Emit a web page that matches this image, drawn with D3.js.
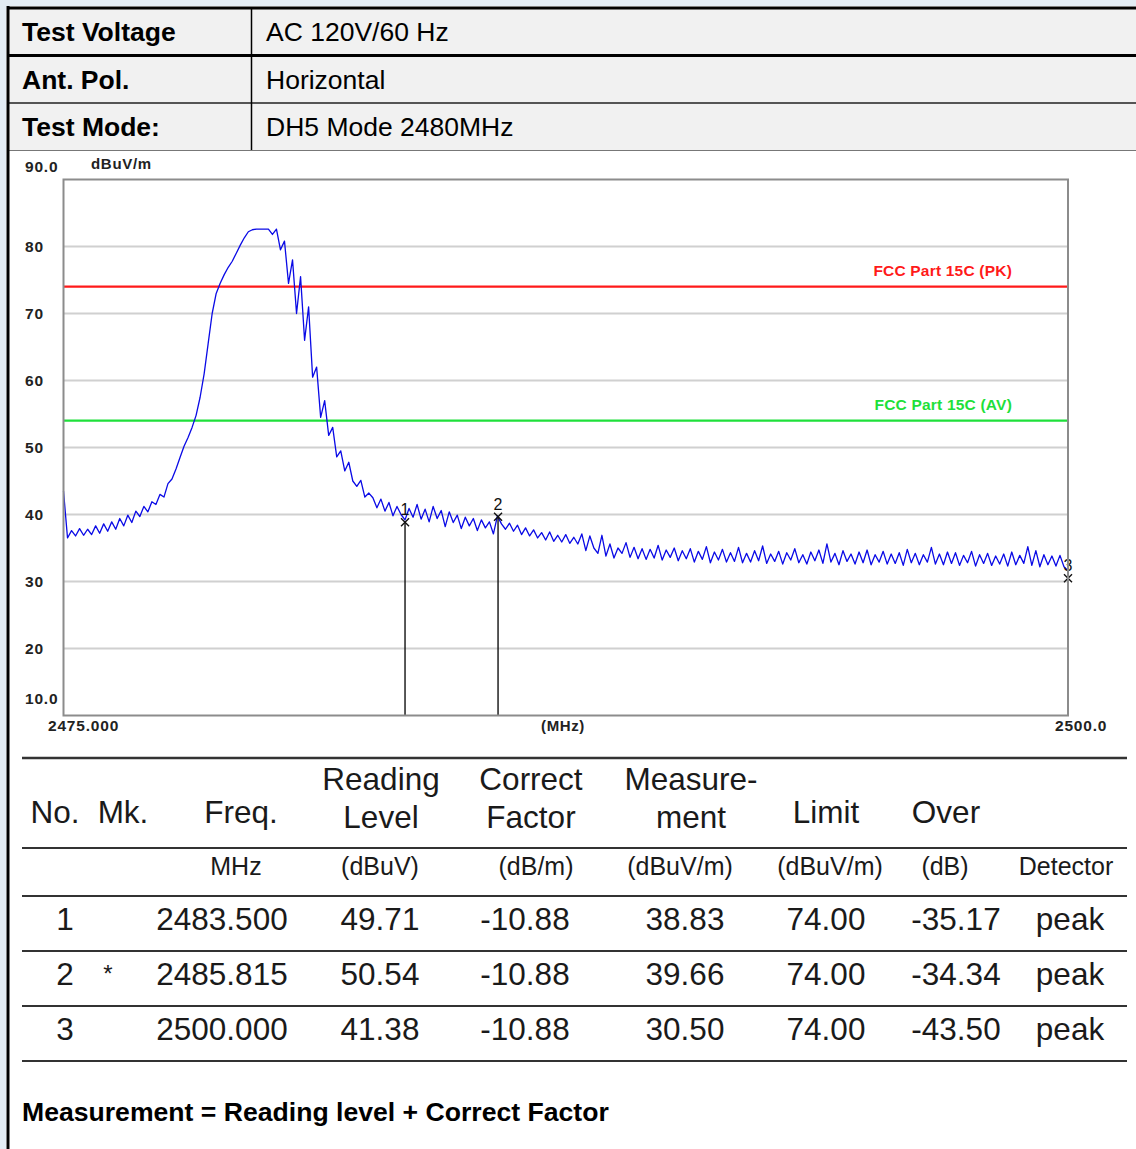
<!DOCTYPE html>
<html>
<head>
<meta charset="utf-8">
<script src="https://cdn.jsdelivr.net/npm/d3@7"></script>
<style>
  body { margin: 0; background: #e3ecf4; }
  svg { display: block; }
</style>
</head>
<body>
<script>
// info table on top
var infoLabels = ["Test Voltage", "Ant. Pol.", "Test Mode:"];
var infoValues = ["AC 120V/60 Hz", "Horizontal", "DH5 Mode 2480MHz"];

// sweep 2475.0 - 2500.0 MHz, 0.1 MHz per point (dBuV/m)
var sweepStart = 2475.0, sweepStop = 2500.0;
var levels = [
  43.5, 36.5, 37.6, 36.8, 37.9, 36.9, 37.8, 37.0, 38.3, 37.2,
  38.6, 37.5, 38.9, 37.8, 39.4, 38.3, 39.9, 38.8, 40.5, 39.7,
  41.2, 40.4, 41.9, 41.5, 43.0, 42.6, 44.6, 45.3, 46.8, 48.5,
  50.2, 51.5, 53.0, 54.8, 57.5, 61.0, 65.5, 70.0, 73.0, 74.5,
  75.8, 76.9, 77.8, 79.0, 80.2, 81.3, 82.2, 82.5, 82.6, 82.6,
  82.6, 82.6, 81.8, 82.6, 79.5, 80.8, 74.5, 78.0, 70.0, 75.5,
  66.0, 71.0, 60.5, 62.0, 54.5, 57.0, 51.8, 53.0, 48.6, 49.5,
  46.5, 47.8, 45.0, 44.2, 45.1, 42.6, 43.2, 42.5, 41.0, 42.3,
  40.5, 41.8, 39.8, 41.2, 40.0, 39.2, 40.9, 39.6, 41.5, 39.3,
  40.8, 38.9, 41.2, 39.4, 40.6, 38.2, 40.4, 38.8, 39.9, 37.9,
  39.6, 38.3, 39.4, 37.6, 39.2, 38.0, 38.9, 37.1, 39.8, 38.6,
  37.8, 38.7, 37.5, 38.4, 37.0, 38.0, 36.8, 37.7, 36.5, 37.3,
  36.2, 37.4, 36.0, 36.9, 35.9, 37.0, 35.7, 36.6, 35.6, 37.1,
  34.6, 36.8, 35.0, 34.2, 36.9, 33.8, 35.6, 33.5, 35.0, 34.2,
  35.8, 33.6, 35.1, 33.4, 34.9, 33.3, 34.8, 33.5, 35.4, 33.2,
  34.7, 33.6, 35.0, 33.1, 34.6, 33.4, 34.9, 32.9, 34.5, 33.3,
  35.2, 32.8, 34.4, 33.2, 34.8, 32.9, 34.3, 33.0, 35.1, 32.8,
  34.2, 32.9, 34.6, 33.1, 35.3, 32.7, 34.1, 33.0, 34.5, 32.6,
  34.3, 33.2, 34.9, 32.8, 34.0, 32.6, 34.4, 33.1, 34.7, 32.7,
  35.6, 32.9, 34.2, 32.5, 34.6, 33.0, 34.1, 32.6, 34.4, 32.8,
  34.7, 32.5, 34.0, 32.9, 34.5, 32.6, 34.1, 32.7, 34.3, 32.4,
  34.8, 32.8, 34.2, 32.5, 34.0, 32.9, 35.1, 32.6, 34.1, 32.5,
  34.4, 32.7, 34.3, 32.4, 33.9, 32.8, 34.5, 32.3, 34.0, 32.7,
  34.2, 32.4, 33.8, 32.6, 34.1, 32.3, 34.4, 32.5, 33.9, 32.7,
  35.2, 32.4, 34.6, 32.2, 34.0, 32.5, 33.8, 32.3, 33.9, 32.2,
  31.6
];

var yTicks = [20, 30, 40, 50, 60, 70, 80];

var limitNames = ["FCC Part 15C (PK)", "FCC Part 15C (AV)"];
var limitLevels = [74, 54];

// markers / result table
var markerNo = [1, 2, 3];
var markerMk = ["", "*", ""];
var markerFreq = [2483.500, 2485.815, 2500.000];
var readingLevel = [49.71, 50.54, 41.38];
var correctFactor = [-10.88, -10.88, -10.88];
var measurement = [38.83, 39.66, 30.50];
var limitValue = [74.00, 74.00, 74.00];
var overValue = [-35.17, -34.34, -43.50];
var detector = ["peak", "peak", "peak"];

var width = 1136, height = 1149;
var limitColors = ["#ff1a1a", "#1ee03a"];

var svg = d3.select("body").append("svg")
    .attr("width", width)
    .attr("height", height);

// page
svg.append("rect").attr("x", 6).attr("y", 6).attr("width", width - 6).attr("height", height - 6).attr("fill", "#fff");

// ---- info table ----
var rowTop = [9, 57, 104], rowH = [46, 46, 46];
var info = svg.append("g");
info.append("rect").attr("x", 8).attr("y", 8).attr("width", width).attr("height", 142).attr("fill", "#f1f1f1");
infoLabels.forEach(function (lab, i) {
  var cy = rowTop[i] + rowH[i] / 2;
  info.append("text").attr("x", 22).attr("y", cy + 9)
      .attr("font-family", "Arial, 'Liberation Sans', sans-serif")
      .attr("font-size", 26.5).attr("font-weight", "bold").attr("fill", "#000").text(lab);
  info.append("text").attr("x", 266).attr("y", cy + 9)
      .attr("font-family", "Arial, 'Liberation Sans', sans-serif")
      .attr("font-size", 26.5).attr("fill", "#000").text(infoValues[i]);
});
info.append("line").attr("x1", 7).attr("x2", width).attr("y1", 8).attr("y2", 8).attr("stroke", "#000").attr("stroke-width", 3);
info.append("line").attr("x1", 7).attr("x2", width).attr("y1", 55.5).attr("y2", 55.5).attr("stroke", "#000").attr("stroke-width", 3);
info.append("line").attr("x1", 7).attr("x2", width).attr("y1", 103).attr("y2", 103).attr("stroke", "#555").attr("stroke-width", 2);
info.append("line").attr("x1", 7).attr("x2", width).attr("y1", 150.5).attr("y2", 150.5).attr("stroke", "#777").attr("stroke-width", 1);
info.append("line").attr("x1", 251.5).attr("x2", 251.5).attr("y1", 8).attr("y2", 150).attr("stroke", "#000").attr("stroke-width", 1.5);

// left frame line
svg.append("line").attr("x1", 8).attr("x2", 8).attr("y1", 6).attr("y2", height).attr("stroke", "#000").attr("stroke-width", 3);

// ---- chart ----
var x = d3.scaleLinear().domain([sweepStart, sweepStop]).range([63.5, 1068]);
var y = d3.scaleLinear().domain([10, 90]).range([715.5, 179.5]);
var step = (sweepStop - sweepStart) / (levels.length - 1);

var labFont = "Arial, 'Liberation Sans', sans-serif";
var chart = svg.append("g");

function chartLabel(tx, ty, txt, size) {
  return chart.append("text").attr("x", tx).attr("y", ty)
      .attr("font-family", labFont).attr("font-size", size || 15.5).attr("font-weight", "bold")
      .attr("letter-spacing", 0.8).attr("fill", "#222").text(txt);
}

// grid
chart.selectAll(".grid").data(yTicks).enter().append("line")
    .attr("x1", x(sweepStart)).attr("x2", x(sweepStop))
    .attr("y1", function (d) { return y(d); }).attr("y2", function (d) { return y(d); })
    .attr("stroke", "#d0d0d0").attr("stroke-width", 1.8);

// y labels
yTicks.forEach(function (t) { chartLabel(25, y(t) + 5, t); });
chartLabel(25, 172, y.domain()[1].toFixed(1));
chartLabel(25, 704, y.domain()[0].toFixed(1));
chartLabel(91, 169, "dBuV/m", 15).attr("letter-spacing", 0.7);

// x labels
chartLabel(48, 731, sweepStart.toFixed(3));
chartLabel(1055, 731, sweepStop.toFixed(1));
chartLabel(563, 731, "(MHz)", 15).attr("text-anchor", "middle").attr("letter-spacing", 0.6);

// limit lines
limitLevels.forEach(function (lv, i) {
  chart.append("line").attr("x1", x(sweepStart)).attr("x2", x(sweepStop))
      .attr("y1", y(lv)).attr("y2", y(lv)).attr("stroke", limitColors[i]).attr("stroke-width", 2.2);
  chart.append("text").attr("x", 1012).attr("y", y(lv) - 11).attr("text-anchor", "end")
      .attr("font-family", labFont).attr("font-size", 15.5).attr("font-weight", "bold")
      .attr("letter-spacing", 0.2).attr("fill", limitColors[i]).text(limitNames[i]);
});

// trace
var line = d3.line()
    .x(function (d, i) { return x(sweepStart + i * step); })
    .y(function (d) { return y(d); });
chart.append("path").datum(levels).attr("d", line)
    .attr("fill", "none").attr("stroke", "#0a0ae6").attr("stroke-width", 1.3)
    .attr("stroke-linejoin", "round");

// markers
markerFreq.forEach(function (f, i) {
  var mx = x(f), my = y(measurement[i]);
  chart.append("line").attr("x1", mx).attr("x2", mx).attr("y1", my).attr("y2", y(10))
      .attr("stroke", "#111").attr("stroke-width", 1.4);
  chart.append("path")
      .attr("d", "M" + (mx - 4) + "," + (my - 4) + "L" + (mx + 4) + "," + (my + 4) +
                 "M" + (mx - 4) + "," + (my + 4) + "L" + (mx + 4) + "," + (my - 4))
      .attr("stroke", "#111").attr("stroke-width", 1.4);
  chart.append("text").attr("x", mx).attr("y", my - 7).attr("text-anchor", "middle")
      .attr("font-family", labFont).attr("font-size", 16).attr("fill", "#111").text(markerNo[i]);
});

// plot frame
chart.append("rect").attr("x", x(sweepStart)).attr("y", y(90))
    .attr("width", x(sweepStop) - x(sweepStart)).attr("height", y(10) - y(90))
    .attr("fill", "none").attr("stroke", "#8c8c8c").attr("stroke-width", 2);

// ---- result table ----
var tFont = "Arial, 'Liberation Sans', sans-serif";
var colX = [65, 108, 222, 380, 525, 685, 826, 956, 1070];
var tab = svg.append("g").attr("font-family", tFont).attr("fill", "#1a1a1a");

[758, 848, 896, 951, 1006, 1061].forEach(function (ly, i) {
  tab.append("line").attr("x1", 22).attr("x2", 1127).attr("y1", ly).attr("y2", ly)
      .attr("stroke", "#333").attr("stroke-width", i === 0 ? 2.6 : 2);
});

var headTop = ["", "", "", "Reading", "Correct", "Measure-", "", "", ""];
var headBot = ["", "", "", "Level", "Factor", "ment", "", "", ""];
var headOne = ["No.", "Mk.", "Freq.", "", "", "", "Limit", "Over", ""];
var headX = [55, 123, 241, 381, 531, 691, 826, 946, 1066];
var units = ["", "", "MHz", "(dBuV)", "(dB/m)", "(dBuV/m)", "(dBuV/m)", "(dB)", "Detector"];
var unitX = [65, 108, 236, 380, 536, 680, 830, 945, 1066];

headX.forEach(function (hx, i) {
  if (headOne[i]) tab.append("text").attr("x", hx).attr("y", 823).attr("text-anchor", "middle")
      .attr("font-size", 31.5).text(headOne[i]);
  if (headTop[i]) tab.append("text").attr("x", hx).attr("y", 790).attr("text-anchor", "middle")
      .attr("font-size", 31.5).text(headTop[i]);
  if (headBot[i]) tab.append("text").attr("x", hx).attr("y", 828).attr("text-anchor", "middle")
      .attr("font-size", 31.5).text(headBot[i]);
  if (units[i]) tab.append("text").attr("x", unitX[i]).attr("y", 875).attr("text-anchor", "middle")
      .attr("font-size", 25).text(units[i]);
});

markerNo.forEach(function (n, r) {
  var by = 930 + r * 55;
  var cells = [n, markerMk[r], markerFreq[r].toFixed(3), readingLevel[r].toFixed(2),
               correctFactor[r].toFixed(2), measurement[r].toFixed(2), limitValue[r].toFixed(2),
               overValue[r].toFixed(2), detector[r]];
  cells.forEach(function (c, j) {
    tab.append("text").attr("x", colX[j]).attr("y", j === 1 ? by - 3 : by).attr("text-anchor", "middle")
        .attr("font-size", j === 1 ? 24 : 31.5).text(c);
  });
});

svg.append("text").attr("x", 22).attr("y", 1121).attr("font-family", tFont)
    .attr("font-size", 26.6).attr("font-weight", "bold").attr("fill", "#000")
    .text("Measurement = Reading level + Correct Factor");
</script>
</body>
</html>
